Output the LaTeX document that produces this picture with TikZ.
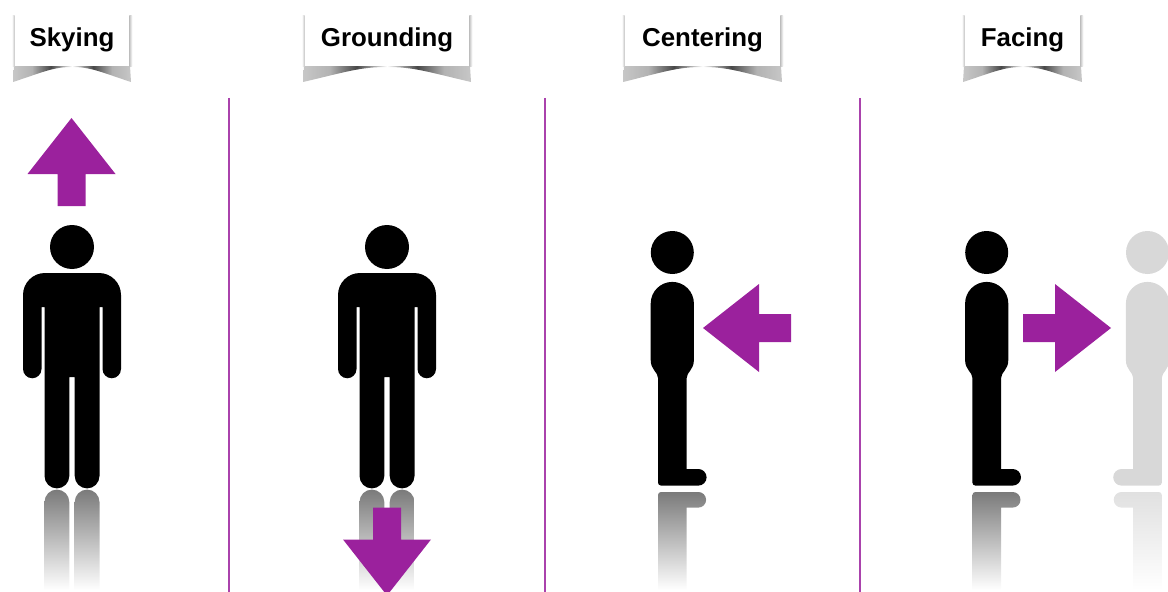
\documentclass[tikz,border=0pt]{standalone}
\usepackage{fontspec}
\setmainfont{Liberation Sans}
\usetikzlibrary{calc}
\definecolor{plum}{RGB}{155,33,157}
\definecolor{ghost}{RGB}{216,216,216}
\pgfdeclarehorizontalshading{curl}{100bp}{color(0bp)=(black!22); color(25bp)=(black!22); color(33bp)=(black!30); color(41bp)=(black!72); color(46bp)=(black!35); color(50bp)=(white); color(54bp)=(black!35); color(59bp)=(black!72); color(67bp)=(black!30); color(75bp)=(black!22); color(100bp)=(black!22)}
\tikzset{
  banner/.style={fill=white, minimum height=58*0.75pt, inner sep=0pt, text height=18.5pt, text depth=4pt, font=\fontsize{19.4}{22}\selectfont\bfseries},
  divider/.style={draw=plum!85, line width=1pt},
  pics/bigarrow/.style={code={
    \fill[plum] (0,0) -- (44,56) -- (14,56) -- (14,88) -- (-14,88) -- (-14,56) -- (-44,56) -- cycle;
  }},
  pics/frontman/.style={code={
    \fill (0,247) circle (22);
    \fill (-49,295) arc[start angle=180, end angle=270, radius=22] -- (27,273)
      arc[start angle=-90, end angle=0, radius=22] -- (49,369)
      arc[start angle=0, end angle=180, radius=9.25] -- (30.5,307) -- (27.5,307) -- (27.5,476)
      arc[start angle=0, end angle=180, radius=12.4] -- (2.7,377) -- (-2.7,377) -- (-2.7,476)
      arc[start angle=0, end angle=180, radius=12.4] -- (-27.5,307) -- (-30.5,307) -- (-30.5,369)
      arc[start angle=0, end angle=180, radius=9.25] -- cycle;
    % reflection
    \foreach \s in {-1,1}
      \shade[top color=black!52, bottom color=white, xshift=\s*15.1*0.75pt]
        (-12.4,590) -- (-12.4,502) arc[start angle=180, end angle=360, radius=12.4] -- (12.4,590) -- cycle;
  }},
  pics/sideman/.style 2 args={code={
    \fill[#1] (0,252.5) circle (21.5);
    \fill[#1] (-21.6,303.5) arc[start angle=180, end angle=360, radius=21.6] -- (21.6,360)
      .. controls (21.6,370) and (14.4,372) .. (14.4,378) -- (14.4,469) -- (26,469)
      arc[start angle=-90, end angle=90, radius=8.3] -- (-11.3,485.6)
      arc[start angle=90, end angle=180, radius=3] -- (-14.3,378)
      .. controls (-14.3,372) and (-21.6,370) .. (-21.6,360) -- cycle;
    % reflection
    \shade[top color=#2, bottom color=white]
      (-14.3,590) -- (-14.3,495) arc[start angle=180, end angle=270, radius=3] -- (26,492)
      arc[start angle=-90, end angle=90, radius=7.8] -- (14.4,507.6) -- (14.4,590) -- cycle;
  }},
}

\begin{document}
\begin{tikzpicture}[x=0.75pt, y=-0.75pt]
  \useasboundingbox (0,0) rectangle (1168,592);
  \clip (0,0) rectangle (1168,592);
  % banners
  \foreach \n/\t/\x/\w in {sky/Skying/72/114, ground/Grounding/387/164, center/Centering/702.5/155, face/Facing/1022.5/115} {
    \shade[shading=curl] (\x-\w/2-2,82) .. controls (\x-\w/4,72) and (\x-\w/6,67) .. (\x,67)
      .. controls (\x+\w/6,67) and (\x+\w/4,72) .. (\x+\w/2+2,82) -- (\x+\w/2+1,66) -- (\x-\w/2-1,66) -- cycle;
    \node[banner, minimum width=\w*0.75pt] (\n) at (\x,37) {\t};
    \shade[left color=white, right color=black!24] ($(\n.north west)+(-3,8)$) rectangle ($(\n.south west)+(0,0)$);
    \shade[left color=black!24, right color=white] ($(\n.north east)+(0,8)$) rectangle ($(\n.south east)+(3,0)$);
  }
  % dividers
  \foreach \x in {229,545,860} \draw[divider] (\x,98) -- (\x,592);
  % figures
  \pic at (72,0) {frontman};
  \pic at (387,0) {frontman};
  \pic at (672.3,0) {sideman={black}{black!52}};
  \pic at (986.7,0) {sideman={black}{black!52}};
  \pic[xscale=-1] at (1147.5,0) {sideman={ghost}{black!12}};
  % arrows
  \pic at (71.5,118) {bigarrow};
  \pic[rotate=180] at (387,595.5) {bigarrow};
  \pic[rotate=90] at (703,328) {bigarrow};
  \pic[rotate=-90] at (1111,328) {bigarrow};
\end{tikzpicture}
\end{document}
